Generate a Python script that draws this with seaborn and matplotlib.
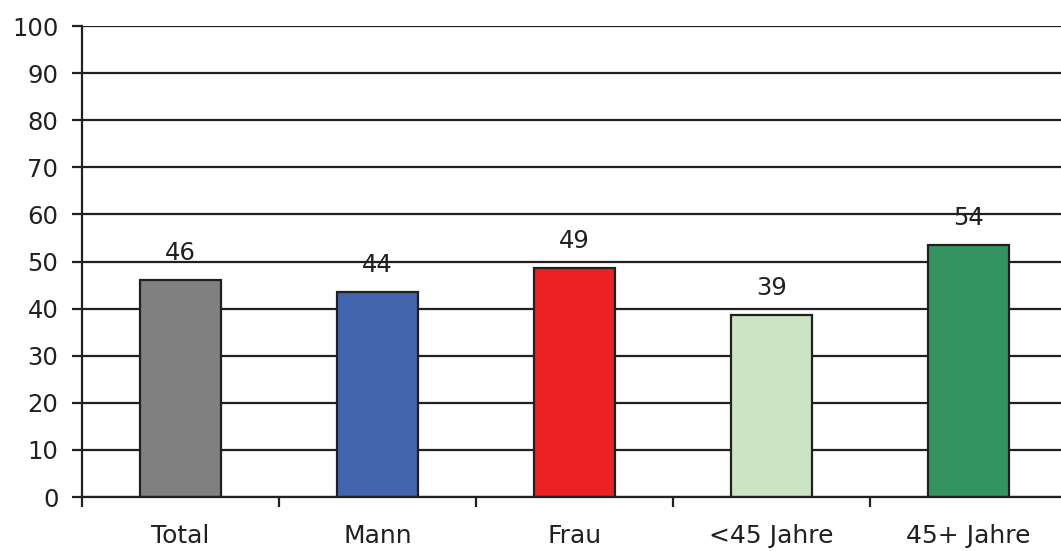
import matplotlib
matplotlib.use("Agg")
import matplotlib.pyplot as plt
import seaborn as sns
import pandas as pd

categories = ["Total", "Mann", "Frau", "<45 Jahre", "45+ Jahre"]
values = [46.1, 43.6, 48.6, 38.6, 53.6]
colors = ["#808080", "#4564ae", "#ed2024", "#cce4c3", "#359362"]
y_ticks = [0, 10, 20, 30, 40, 50, 60, 70, 80, 90, 100]

df = pd.DataFrame({"Gruppe": categories, "Wert": values})

sns.set_theme(style="white")
plt.rcParams["font.family"] = ["DejaVu Sans"]

fig = plt.figure(figsize=(10.61, 5.51), dpi=100)
ax = fig.add_axes([0.0773, 0.098, 0.9284, 0.8548])

ink = "#231f20"

sns.barplot(data=df, x="Gruppe", y="Wert", hue="Gruppe", palette=colors,
            saturation=1, legend=False, width=0.41, edgecolor=ink,
            linewidth=1.6, ax=ax, zorder=3)

ax.set_xlim(-0.5, 4.5)
ax.set_ylim(0, 100)
ax.set_yticks(y_ticks)
ax.set_yticklabels([str(t) for t in y_ticks])
ax.yaxis.grid(True, color=ink, linewidth=1.6)
ax.set_axisbelow(True)

ax.set_xlabel("")
ax.set_ylabel("")

# category labels at centres, tick marks at the group boundaries
ax.set_xticks(range(len(categories)))
ax.set_xticklabels(categories)
ax.set_xticks([i - 0.5 for i in range(len(categories) + 1)], minor=True)
ax.tick_params(axis="x", which="major", length=0, pad=19.5, labelsize=18,
               labelcolor=ink)
ax.tick_params(axis="x", which="minor", length=7, width=1.6, color=ink,
               direction="out", bottom=True)
ax.tick_params(axis="y", length=7, width=1.6, color=ink, direction="out",
               left=True, pad=10, labelsize=17.5, labelcolor=ink)

for s in ["top", "right"]:
    ax.spines[s].set_visible(False)
for s in ["left", "bottom"]:
    ax.spines[s].set_color(ink)
    ax.spines[s].set_linewidth(1.6)
    ax.spines[s].set_zorder(4)

for i, v in enumerate(values):
    ax.annotate(f"{v:.0f}", (i, v), xytext=(0, 27), textcoords="offset pixels",
                ha="center", va="center", fontsize=17.5, color=ink,
                zorder=5)

fig.savefig("out.png", dpi=100)
